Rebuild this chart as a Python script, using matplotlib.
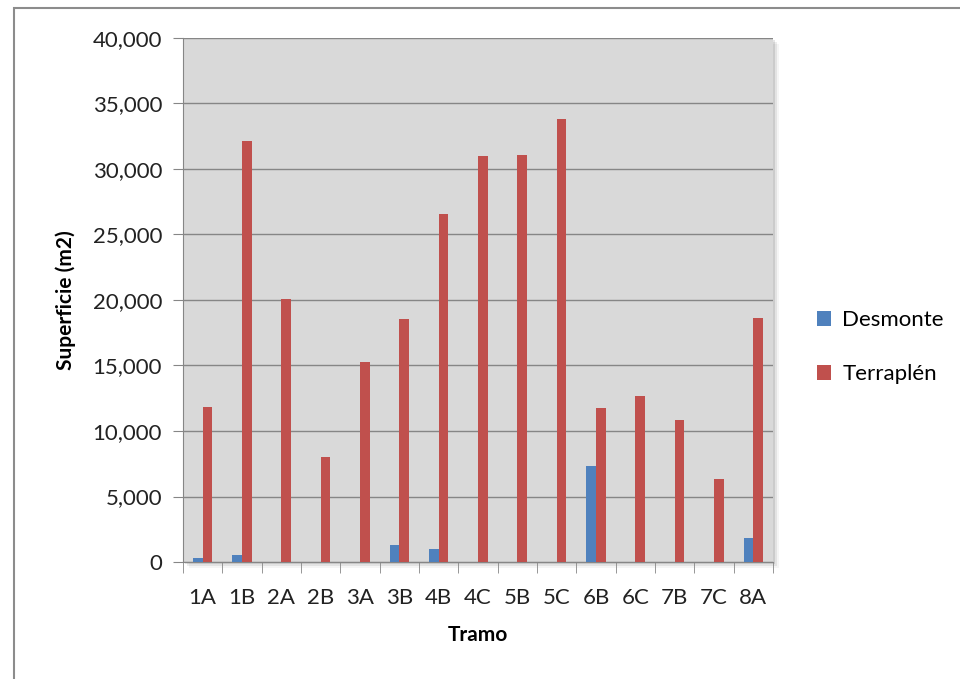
import numpy as np
import matplotlib.pyplot as plt
from matplotlib.patches import Rectangle
from matplotlib.ticker import FuncFormatter, FixedLocator

tramos = ["1A", "1B", "2A", "2B", "3A", "3B", "4B", "4C", "5B", "5C", "6B", "6C", "7B", "7C", "8A"]
desmonte = [330, 510, 0, 0, 0, 1310, 1030, 0, 0, 0, 7350, 0, 0, 0, 1820]
terraplen = [11800, 32100, 20100, 8050, 15300, 18550, 26600, 31000, 31100, 33850, 11750, 12700, 10850, 6350, 18650]

plt.rcParams["font.family"] = ["Lato", "DejaVu Sans"]

fig = plt.figure(figsize=(9.6, 6.79), dpi=100)
ax = fig.add_axes([183 / 960, 1 - 562 / 679, 590 / 960, 524 / 679])

# outer chart border
fig.patches.append(Rectangle((14 / 960, -0.05), 1.0, 1 - 8 / 679 + 0.05,
                             transform=fig.transFigure, fill=False,
                             edgecolor="#8c8c8c", linewidth=1.5))

# soft shadow behind plot area
for i, a in enumerate([0.10, 0.07, 0.04]):
    off = (i + 1) * 2
    fig.patches.append(Rectangle(((183 + off) / 960, 1 - (562 + off) / 679), 590 / 960, 524 / 679,
                                 transform=fig.transFigure, facecolor="black",
                                 alpha=a, edgecolor="none", zorder=-1))

x = np.arange(len(tramos))
w = 0.245
ax.bar(x - w / 2, desmonte, w, color="#4f81bd", label="Desmonte", zorder=3)
ax.bar(x + w / 2, terraplen, w, color="#c0504d", label="Terraplén", zorder=3)

ax.set_facecolor("#d9d9d9")
ax.set_xlim(-0.5, len(tramos) - 0.5)
ax.set_ylim(0, 40000)
ax.set_yticks(np.arange(0, 40001, 5000))
ax.yaxis.set_major_formatter(FuncFormatter(lambda v, p: f"{int(v):,}"))
ax.yaxis.grid(True, color="#868686", linewidth=1.0, zorder=0)
ax.set_axisbelow(True)

ax.set_xticks(x)
ax.set_xticklabels(tramos)
ax.xaxis.set_minor_locator(FixedLocator(np.arange(-0.5, len(tramos), 1.0)))
ax.tick_params(axis="x", which="major", length=0, pad=19, labelsize=16, colors="#222222")
ax.tick_params(axis="x", which="minor", length=8, color="#868686")
ax.tick_params(axis="y", length=7, color="#868686", labelsize=16, pad=8, labelcolor="#222222")

for s in ["top", "right"]:
    ax.spines[s].set_visible(False)
for s in ["left", "bottom"]:
    ax.spines[s].set_color("#868686")

ax.set_ylabel("Superficie (m2)", fontsize=15, fontweight="bold", labelpad=12)
ax.set_xlabel("Tramo", fontsize=15, fontweight="bold", labelpad=12)

ax.legend(loc="center left", bbox_to_anchor=(1.04, 0.41), frameon=False,
          fontsize=16, handlelength=0.65, handleheight=0.65, labelspacing=1.55,
          handletextpad=0.5)

fig.savefig("out.png", dpi=100)
